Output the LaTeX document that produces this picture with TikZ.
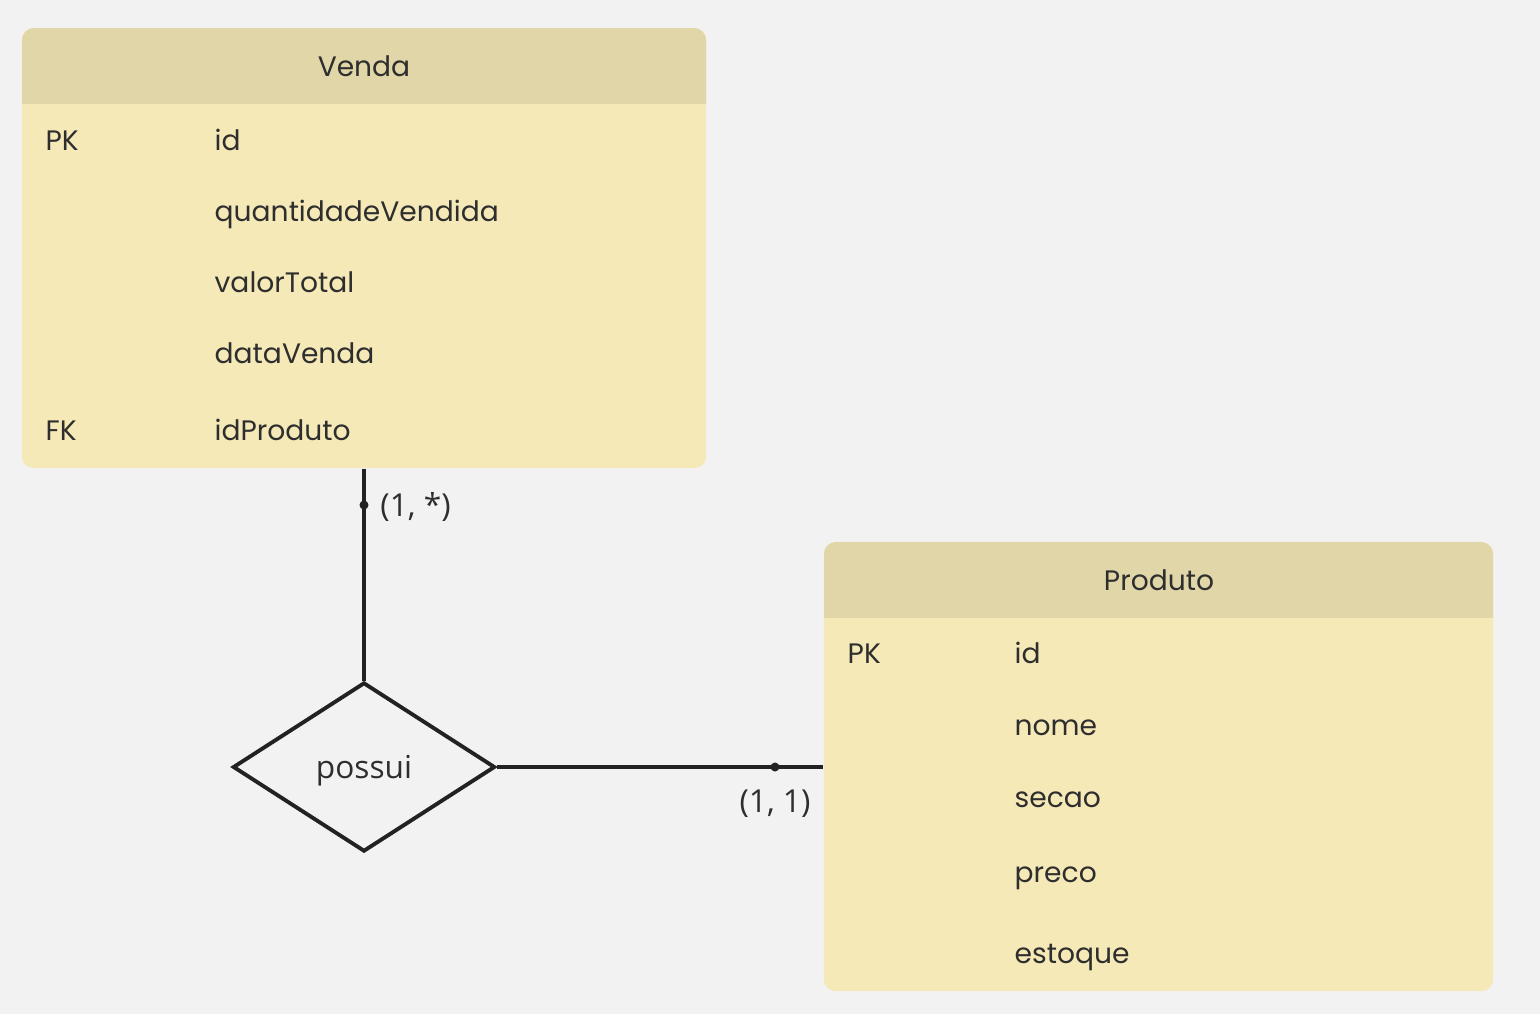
\documentclass[tikz,border=0pt]{standalone}
\usepackage{fontspec}
\setmainfont{Poppins}
\newfontfamily\labelfont{Open Sans}
\usetikzlibrary{shapes.geometric}

\definecolor{bgcol}{HTML}{F2F2F2}
\definecolor{headcol}{HTML}{E0D6A8}
\definecolor{bodycol}{HTML}{F6E9B8}
\definecolor{inkcol}{HTML}{222222}
\definecolor{txtcol}{HTML}{2E2E2E}

\tikzset{
  tbl/.style={fill=bodycol, rounded corners=0.12cm, inner sep=0pt},
  attr/.style={anchor=base west, inner sep=0pt, text=txtcol, font=\fontsize{8}{9}\selectfont},
  title/.style={anchor=base, inner sep=0pt, text=txtcol, font=\fontsize{8}{9}\selectfont},
  card/.style={text=txtcol, font=\labelfont\fontsize{9}{10}\selectfont},
  link/.style={draw=inkcol, line width=1.1pt},
}

\begin{document}
\begin{tikzpicture}[x=0.01cm,y=-0.01cm]
      \useasboundingbox[fill=bgcol] (0,0) rectangle (1540,1014);

      % tabela Venda
      \node[tbl, minimum width=6.84cm, minimum height=4.4cm] (venda) at (364,248) {};
      \begin{scope}
        \clip (22,28) rectangle (706,103);
        \fill[headcol, rounded corners=0.12cm] (22,28) rectangle (706,468);
      \end{scope}
      \node[title] (vtitle) at (364,76) {Venda};
      \node[attr] (vpk) at (45,150) {PK};
      \node[attr] (vid) at (214,150) {id};
      \node[attr] (vqtd) at (214,221) {quantidadeVendida};
      \node[attr] (vvalor) at (214,292) {valorTotal};
      \node[attr] (vdata) at (214,363) {dataVenda};
      \node[attr] (vfk) at (45,440) {FK};
      \node[attr] (vidp) at (214,440) {idProduto};

      % tabela Produto
      \node[tbl, minimum width=6.69cm, minimum height=4.49cm] (produto) at (1158.5,766.5) {};
      \begin{scope}
        \clip (824,542) rectangle (1493,617);
        \fill[headcol, rounded corners=0.12cm] (824,542) rectangle (1493,991);
      \end{scope}
      \node[title] (ptitle) at (1159,590) {Produto};
      \node[attr] (ppk) at (847,663) {PK};
      \node[attr] (pid) at (1014,663) {id};
      \node[attr] (pnome) at (1014,735) {nome};
      \node[attr] (psecao) at (1014,807) {secao};
      \node[attr] (ppreco) at (1014,882) {preco};
      \node[attr] (pest) at (1014,963) {estoque};

      % relacionamento
      \node[diamond, draw=inkcol, line width=1.1pt, minimum width=2.62cm,
            minimum height=1.69cm, inner sep=0pt, text depth=0pt, card] (possui) at (364,767) {possui};

      \draw[link] (venda.south) -- (possui.north);
      \draw[link] (possui.east) -- (possui.east -| produto.west);

      \coordinate (dvenda) at (364,505);
      \coordinate (dprod) at (775,767);
      \fill[inkcol] (dvenda) circle (4.5);
      \fill[inkcol] (dprod) circle (4.5);
      \node[card, anchor=west] (cvenda) at (368,507) {(1, *)};
      \node[card] (cprod) at (775,804) {(1, 1)};
    \end{tikzpicture}
\end{document}
